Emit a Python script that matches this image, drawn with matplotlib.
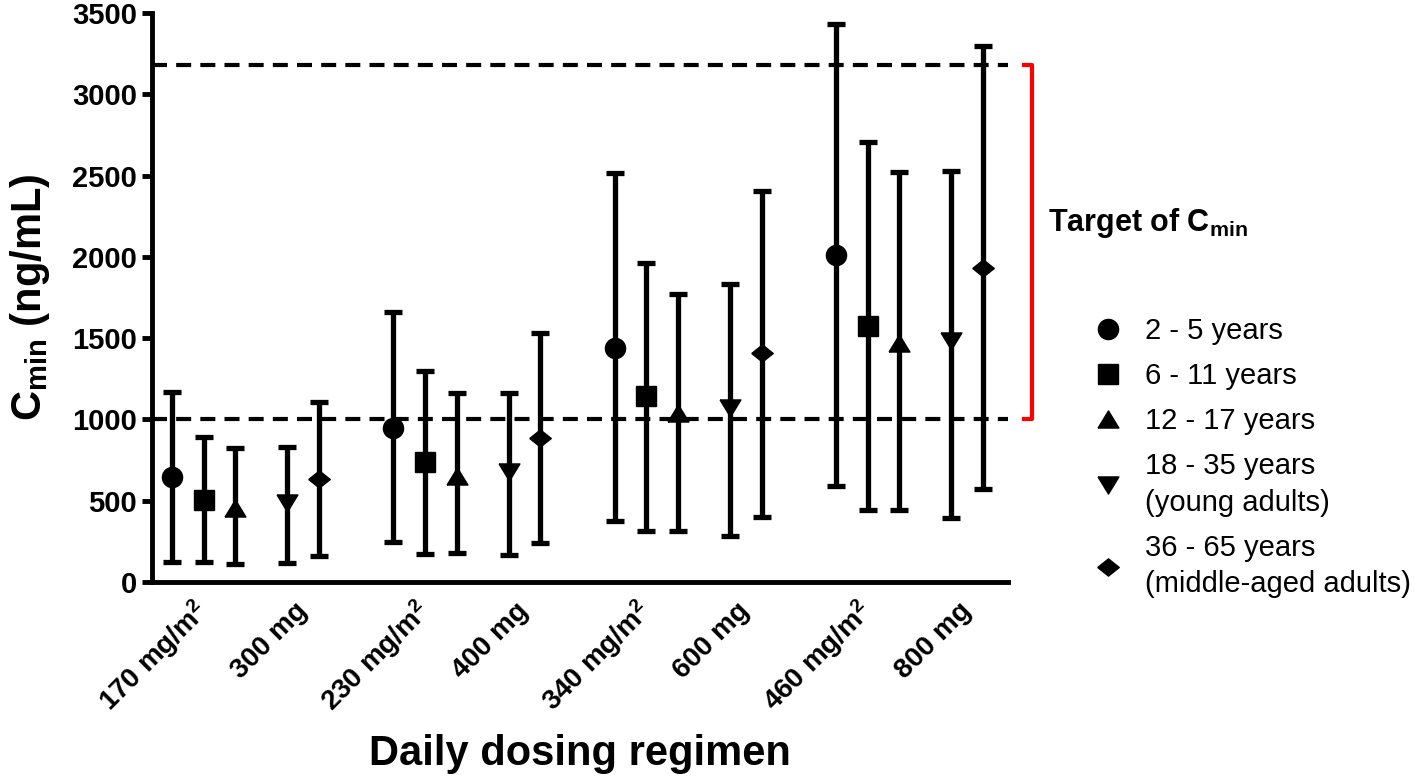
import numpy as np
import matplotlib
matplotlib.use("Agg")
import matplotlib.pyplot as plt
import matplotlib.transforms as mtransforms

plt.rcParams["font.family"] = ["Liberation Sans", "DejaVu Sans"]
plt.rcParams["mathtext.fontset"] = "custom"
plt.rcParams["mathtext.rm"] = "Liberation Sans"
plt.rcParams["mathtext.bf"] = "Liberation Sans:bold"
plt.rcParams["mathtext.it"] = "Liberation Sans:italic"

# dosing regimens (pediatric mg/m2 doses alternate with adult flat doses)
ped_regimens = ["170 mg/m$^\\mathbf{2}$", "230 mg/m$^\\mathbf{2}$",
                "340 mg/m$^\\mathbf{2}$", "460 mg/m$^\\mathbf{2}$"]
adult_regimens = ["300 mg", "400 mg", "600 mg", "800 mg"]

# Cmin (ng/mL): typical value, lower and upper bound per regimen
c_2_5 = [646, 949, 1442, 2011]
lo_2_5 = [125, 243, 376, 593]
hi_2_5 = [1169, 1663, 2514, 3434]

c_6_11 = [506, 737, 1144, 1573]
lo_6_11 = [123, 173, 315, 440]
hi_6_11 = [891, 1298, 1961, 2709]

c_12_17 = [455, 654, 1037, 1471]
lo_12_17 = [109, 177, 315, 444]
hi_12_17 = [825, 1164, 1773, 2521]

c_18_35 = [486, 677, 1072, 1483]
lo_18_35 = [115, 167, 280, 393]
hi_18_35 = [829, 1164, 1834, 2526]

c_36_65 = [634, 887, 1407, 1933]
lo_36_65 = [162, 239, 400, 574]
hi_36_65 = [1107, 1533, 2404, 3297]

target_low = 1000
target_high = 3180

diamond = [(-1, 0), (0, 0.8), (1, 0), (0, -0.8), (-1, 0)]
tri_up = [(-1, -0.82), (1, -0.82), (0, 0.82), (-1, -0.82)]
tri_down = [(-1, 0.82), (1, 0.82), (0, -0.82), (-1, 0.82)]

series = [
    ("2 - 5 years", c_2_5, lo_2_5, hi_2_5, "o", 14.5, 0),
    ("6 - 11 years", c_6_11, lo_6_11, hi_6_11, "s", 14.0, 1),
    ("12 - 17 years", c_12_17, lo_12_17, hi_12_17, tri_up, 15.0, 2),
    ("18 - 35 years\n(young adults)", c_18_35, lo_18_35, hi_18_35, tri_down, 15.0, 3.65),
    ("36 - 65 years\n(middle-aged adults)", c_36_65, lo_36_65, hi_36_65, diamond, 15.5, 4.65),
]

group_step = 7
groups = np.arange(len(ped_regimens)) * group_step

fig = plt.figure(figsize=(14.17, 7.82), dpi=100)
ax = fig.add_axes([0.1073, 0.2558, 0.6041, 0.7276])

ax.axhline(target_low, color="black", lw=3, linestyle=(0, (3.6, 2.2)), zorder=1)
ax.axhline(target_high, color="black", lw=3, linestyle=(0, (3.6, 2.2)), zorder=1)

for label, c, lo, hi, marker, ms, offset in series:
    x = groups + offset
    c = np.array(c)
    yerr = [c - np.array(lo), np.array(hi) - c]
    ax.errorbar(x, c, yerr=yerr, fmt="none", ecolor="black",
                elinewidth=3.8, capsize=6.5, capthick=3.8, zorder=2)
    ax.plot(x, c, linestyle="none", marker=marker, markersize=ms,
            color="black", label=label, zorder=3)

ax.set_xlim(-0.63, 26.44)
ax.set_ylim(0, 3500)
ax.set_yticks(np.arange(0, 3501, 500))

tick_pos = []
tick_lab = []
for i in range(len(ped_regimens)):
    tick_pos += [groups[i] + 1, groups[i] + 4.15]
    tick_lab += [ped_regimens[i], adult_regimens[i]]
ax.set_xticks(tick_pos)
ax.set_xticklabels(tick_lab, rotation=45, ha="right", va="center",
                   rotation_mode="anchor", fontsize=20, fontweight="bold")
shift = mtransforms.ScaledTranslation(6 / 100, 0, fig.dpi_scale_trans)
for t in ax.get_xticklabels():
    t.set_transform(t.get_transform() + shift)

for side in ["top", "right"]:
    ax.spines[side].set_visible(False)
for side in ["left", "bottom"]:
    ax.spines[side].set_linewidth(3.5)

ax.tick_params(axis="x", length=0, pad=18)
ax.tick_params(axis="y", direction="out", length=7, width=3.5, pad=4, labelsize=21)
for t in ax.get_yticklabels():
    t.set_fontweight("bold")

ax.set_ylabel("C$_\\mathbf{min}$ (ng/mL)", fontsize=30, fontweight="bold")
ax.yaxis.set_label_coords(-0.117, 0.5)
ax.set_xlabel("Daily dosing regimen", fontsize=30, fontweight="bold")
ax.xaxis.set_label_coords(0.5, -0.268)

# red bracket marking the target range
ax.plot([1.0187, 1.028, 1.028, 1.0187], [target_high, target_high, target_low, target_low],
        transform=ax.get_yaxis_transform(), clip_on=False, color="red", lw=3)
fig.text(0.7396, 0.7148, "Target of C$_\\mathbf{min}$", fontsize=22,
         fontweight="bold", va="center", ha="left")

leg = fig.legend(loc="upper left", bbox_to_anchor=(1093 / 1417, 0.595), frameon=False,
                 fontsize=21, handlelength=1.0, handletextpad=0.78, borderpad=0,
                 borderaxespad=0, labelspacing=0.59)
for t in leg.get_texts():
    t.set_linespacing(1.38)

fig.savefig("out.png", dpi=100)
